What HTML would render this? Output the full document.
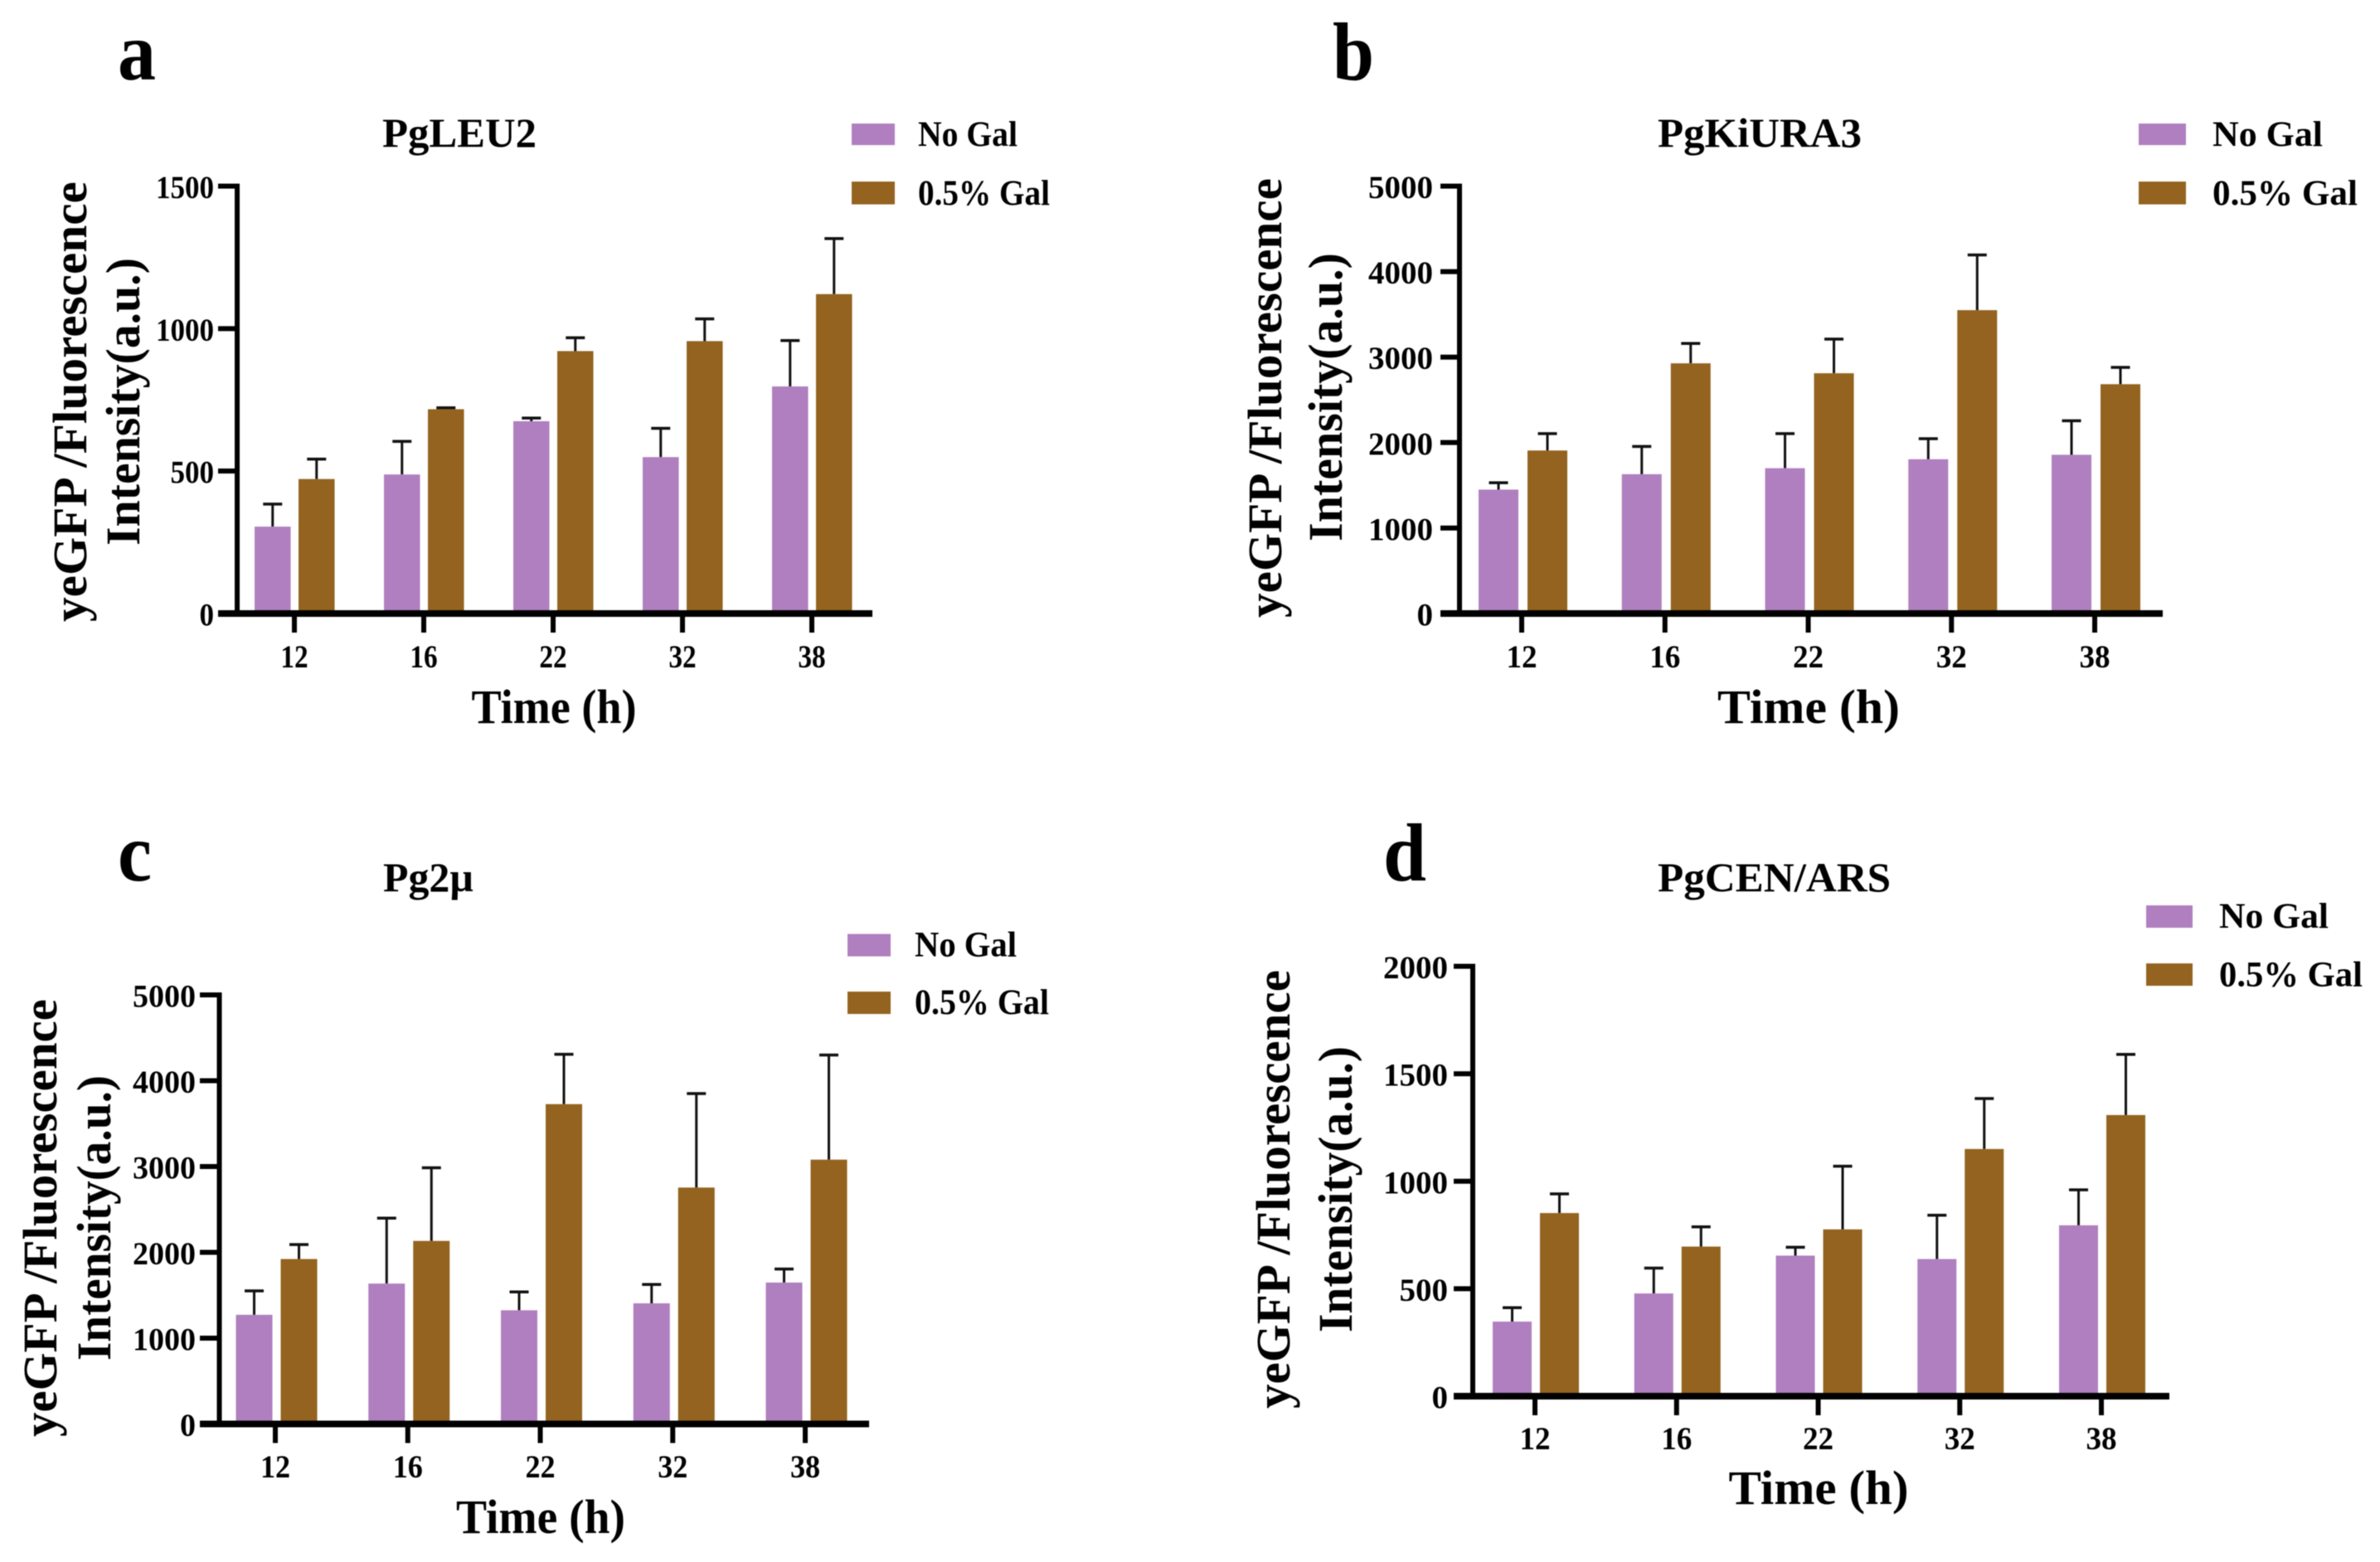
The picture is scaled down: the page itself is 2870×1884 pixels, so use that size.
<!DOCTYPE html>
<html lang="en">
<head>
<meta charset="utf-8">
<title>yeGFP fluorescence intensity over time</title>
<style>
html,body{margin:0;padding:0;background:#fff;width:2870px;height:1884px;overflow:hidden}
svg{display:block;filter:blur(0.6px)}
text{font-family:"Liberation Serif",serif;font-weight:bold;fill:#000}
.panel-letter{font-size:100px}
.title{font-size:50px}
.legend-text{font-size:43px}
.axis-title{font-size:58px}
.y-title{font-size:58.5px}
.tick-label{font-size:39px}
</style>
</head>
<body>
<svg id="figure" xmlns="http://www.w3.org/2000/svg" width="2870" height="1884" viewBox="0 0 2870 1884">
  <rect x="0" y="0" width="2870" height="1884" fill="#fff"/>

  <g id="panel-a">
    <text class="panel-letter" x="142" y="96" textLength="46" lengthAdjust="spacingAndGlyphs">a</text>
    <text class="title" x="461" y="177" textLength="186" lengthAdjust="spacingAndGlyphs">PgLEU2</text>
    <rect x="1027" y="149" width="52" height="26" fill="#B07FBF"/>
    <text class="legend-text" x="1107" y="176" textLength="120" lengthAdjust="spacingAndGlyphs">No Gal</text>
    <rect x="1027" y="219" width="52" height="27.5" fill="#93631F"/>
    <text class="legend-text" x="1107" y="247" textLength="159" lengthAdjust="spacingAndGlyphs">0.5% Gal</text>
    <text class="y-title" transform="translate(104 750) rotate(-90)" textLength="531" lengthAdjust="spacingAndGlyphs">yeGFP /Fluorescence</text>
    <text class="y-title" transform="translate(168 658) rotate(-90)" textLength="347" lengthAdjust="spacingAndGlyphs">Intensity(a.u.)</text>
    <text class="axis-title" x="668" y="872" text-anchor="middle" textLength="199" lengthAdjust="spacingAndGlyphs">Time (h)</text>
  </g>

  <g id="panel-b">
    <text class="panel-letter" x="1607" y="96" textLength="50" lengthAdjust="spacingAndGlyphs">b</text>
    <text class="title" x="1999" y="177" textLength="246" lengthAdjust="spacingAndGlyphs">PgKiURA3</text>
    <rect x="2579" y="149" width="57" height="26" fill="#B07FBF"/>
    <text class="legend-text" x="2668" y="176" textLength="133" lengthAdjust="spacingAndGlyphs">No Gal</text>
    <rect x="2579" y="219" width="57" height="27.5" fill="#93631F"/>
    <text class="legend-text" x="2668" y="247" textLength="175" lengthAdjust="spacingAndGlyphs">0.5% Gal</text>
    <text class="y-title" transform="translate(1545 745) rotate(-90)" textLength="530" lengthAdjust="spacingAndGlyphs">yeGFP /Fluorescence</text>
    <text class="y-title" transform="translate(1618 653) rotate(-90)" textLength="348" lengthAdjust="spacingAndGlyphs">Intensity(a.u.)</text>
    <text class="axis-title" x="2181" y="872" text-anchor="middle" textLength="220" lengthAdjust="spacingAndGlyphs">Time (h)</text>
  </g>

  <g id="panel-c">
    <text class="panel-letter" x="142" y="1062" textLength="41" lengthAdjust="spacingAndGlyphs">c</text>
    <text class="title" x="462" y="1075" textLength="109" lengthAdjust="spacingAndGlyphs">Pg2µ</text>
    <rect x="1022" y="1126.5" width="52" height="27" fill="#B07FBF"/>
    <text class="legend-text" x="1103" y="1153.5" textLength="123" lengthAdjust="spacingAndGlyphs">No Gal</text>
    <rect x="1022" y="1196" width="52" height="27" fill="#93631F"/>
    <text class="legend-text" x="1103" y="1223" textLength="162" lengthAdjust="spacingAndGlyphs">0.5% Gal</text>
    <text class="y-title" transform="translate(68 1733) rotate(-90)" textLength="528" lengthAdjust="spacingAndGlyphs">yeGFP /Fluorescence</text>
    <text class="y-title" transform="translate(133 1641) rotate(-90)" textLength="344" lengthAdjust="spacingAndGlyphs">Intensity(a.u.)</text>
    <text class="axis-title" x="652" y="1849" text-anchor="middle" textLength="204" lengthAdjust="spacingAndGlyphs">Time (h)</text>
  </g>

  <g id="panel-d">
    <text class="panel-letter" x="1668" y="1062" textLength="52" lengthAdjust="spacingAndGlyphs">d</text>
    <text class="title" x="1999" y="1075" textLength="281" lengthAdjust="spacingAndGlyphs">PgCEN/ARS</text>
    <rect x="2588" y="1092" width="56" height="27" fill="#B07FBF"/>
    <text class="legend-text" x="2676" y="1119" textLength="132" lengthAdjust="spacingAndGlyphs">No Gal</text>
    <rect x="2588" y="1162" width="56" height="27" fill="#93631F"/>
    <text class="legend-text" x="2676" y="1189.5" textLength="173" lengthAdjust="spacingAndGlyphs">0.5% Gal</text>
    <text class="y-title" transform="translate(1555 1699) rotate(-90)" textLength="529" lengthAdjust="spacingAndGlyphs">yeGFP /Fluorescence</text>
    <text class="y-title" transform="translate(1630 1607) rotate(-90)" textLength="345" lengthAdjust="spacingAndGlyphs">Intensity(a.u.)</text>
    <text class="axis-title" x="2193" y="1814" text-anchor="middle" textLength="217" lengthAdjust="spacingAndGlyphs">Time (h)</text>
  </g>
</svg>

<script>
// Data
const categories = ['12', '16', '22', '32', '38'];

const ticksA = [0, 500, 1000, 1500];
const noGalA = [305, 488, 675, 549, 797];
const noGalErrTopA = [384, 604, 686, 650, 958];
const galA = [472, 717, 921, 956, 1121];
const galErrTopA = [542, 722, 968, 1034, 1316];

const ticksB = [0, 1000, 2000, 3000, 4000, 5000];
const noGalB = [1450, 1630, 1700, 1805, 1857];
const noGalErrTopB = [1530, 1955, 2105, 2045, 2255];
const galB = [1907, 2927, 2811, 3549, 2683];
const galErrTopB = [2105, 3160, 3210, 4195, 2880];

const ticksC = [0, 1000, 2000, 3000, 4000, 5000];
const noGalC = [1272, 1636, 1325, 1406, 1648];
const noGalErrTopC = [1551, 2398, 1539, 1626, 1805];
const galC = [1922, 2133, 3727, 2755, 3080];
const galErrTopC = [2091, 2985, 4308, 3850, 4300];

const ticksD = [0, 500, 1000, 1500, 2000];
const noGalD = [347, 478, 654, 638, 795];
const noGalErrTopD = [412, 596, 693, 842, 960];
const galD = [852, 696, 776, 1150, 1308];
const galErrTopD = [941, 788, 1070, 1385, 1590];

const SVG_NS = 'http://www.w3.org/2000/svg';
const PURPLE = '#B07FBF';
const BROWN = '#93631F';

function make(tag, attrs, parent) {
  const el = document.createElementNS(SVG_NS, tag);
  Object.keys(attrs).forEach(function (k) { el.setAttribute(k, attrs[k]); });
  parent.appendChild(el);
  return el;
}

function drawBars(group, values, errTops, xLeft, yScale, layout, color, seriesName) {
  values.forEach(function (v, i) {
    const left = xLeft(i);
    const top = yScale(v);
    const errY = yScale(errTops[i]);
    const mid = left + layout.barWidth / 2;

    const stem = make('line', { x1: mid, x2: mid, y1: errY, y2: top, stroke: '#111', 'stroke-width': 3 }, group);
    
    

    const cap = make('line', { x1: mid - 11.5, x2: mid + 11.5, y1: errY, y2: errY, stroke: '#111', 'stroke-width': 3.5 }, group);
    
    

    const bar = make('rect', { x: left, y: top, width: layout.barWidth, height: yScale(0) - top, fill: color }, group);
    
    
  });
}

function drawPanel(layout, ticks, noGal, noGalErrTop, gal, galErrTop) {
  const group = document.getElementById('panel-' + layout.id);
  const yMax = ticks[ticks.length - 1];
  const yScale = function (v) { return layout.yBase - (v / yMax) * (layout.yBase - layout.yTop); };
  const xScale = function (i) { return layout.xFirst + i * layout.step; };

  drawBars(group, noGal, noGalErrTop, function (i) { return xScale(i) + layout.purpleOffset; }, yScale, layout, PURPLE, 'no-gal-' + layout.id);
  drawBars(group, gal, galErrTop, function (i) { return xScale(i) + layout.brownOffset; }, yScale, layout, BROWN, 'gal-' + layout.id);

  const yAxis = make('line', { x1: layout.xAxis, x2: layout.xAxis, y1: layout.yTop - 3, y2: layout.yBase + 3.5, stroke: '#000', 'stroke-width': 6 }, group);
  
  

  const xAxis = make('line', { x1: layout.xLineStart, x2: layout.xLineEnd, y1: layout.yBase, y2: layout.yBase, stroke: '#000', 'stroke-width': 8 }, group);
  
  

  ticks.forEach(function (t) {
    const y = yScale(t);
    const tick = make('line', { x1: layout.xLineStart, x2: layout.xAxis, y1: y, y2: y, stroke: '#000', 'stroke-width': 6 }, group);
    
    
    const text = String(t);
    const label = make('text', { x: layout.yLabelRight, y: y + 14.5, 'text-anchor': 'end', 'class': 'tick-label', textLength: text.length * layout.digitWidth, lengthAdjust: 'spacingAndGlyphs' }, group);
    
    
    label.textContent = text;
  });

  categories.forEach(function (c, i) {
    const x = xScale(i);
    const tick = make('line', { x1: x, x2: x, y1: layout.yBase, y2: layout.yBase + 23, stroke: '#000', 'stroke-width': 6 }, group);
    
    
    const label = make('text', { x: x, y: layout.xLabelY, 'text-anchor': 'middle', 'class': 'tick-label', textLength: c.length * layout.digitWidth * 0.95, lengthAdjust: 'spacingAndGlyphs' }, group);
    
    
    label.textContent = c;
  });
}

drawPanel({ id: 'a', xAxis: 286, yTop: 224.5, yBase: 740, xFirst: 355, step: 156, barWidth: 43.5, purpleOffset: -48, brownOffset: 5, xLineStart: 263, xLineEnd: 1052, yLabelRight: 258, xLabelY: 805, digitWidth: 17.5 },
  ticksA, noGalA, noGalErrTopA, galA, galErrTopA);
drawPanel({ id: 'b', xAxis: 1760, yTop: 224.5, yBase: 740, xFirst: 1835, step: 172.75, barWidth: 48, purpleOffset: -52, brownOffset: 7, xLineStart: 1737, xLineEnd: 2608, yLabelRight: 1728, xLabelY: 805, digitWidth: 19.5 },
  ticksB, noGalB, noGalErrTopB, galB, galErrTopB);
drawPanel({ id: 'c', xAxis: 264.5, yTop: 1200, yBase: 1717.5, xFirst: 332, step: 159.75, barWidth: 44, purpleOffset: -47.5, brownOffset: 6.5, xLineStart: 241, xLineEnd: 1048, yLabelRight: 236, xLabelY: 1782, digitWidth: 19 },
  ticksC, noGalC, noGalErrTopC, galC, galErrTopC);
drawPanel({ id: 'd', xAxis: 1776, yTop: 1165.5, yBase: 1684, xFirst: 1851, step: 170.75, barWidth: 47, purpleOffset: -51, brownOffset: 6, xLineStart: 1753, xLineEnd: 2616, yLabelRight: 1746, xLabelY: 1748, digitWidth: 19.5 },
  ticksD, noGalD, noGalErrTopD, galD, galErrTopD);
</script>
</body>
</html>
